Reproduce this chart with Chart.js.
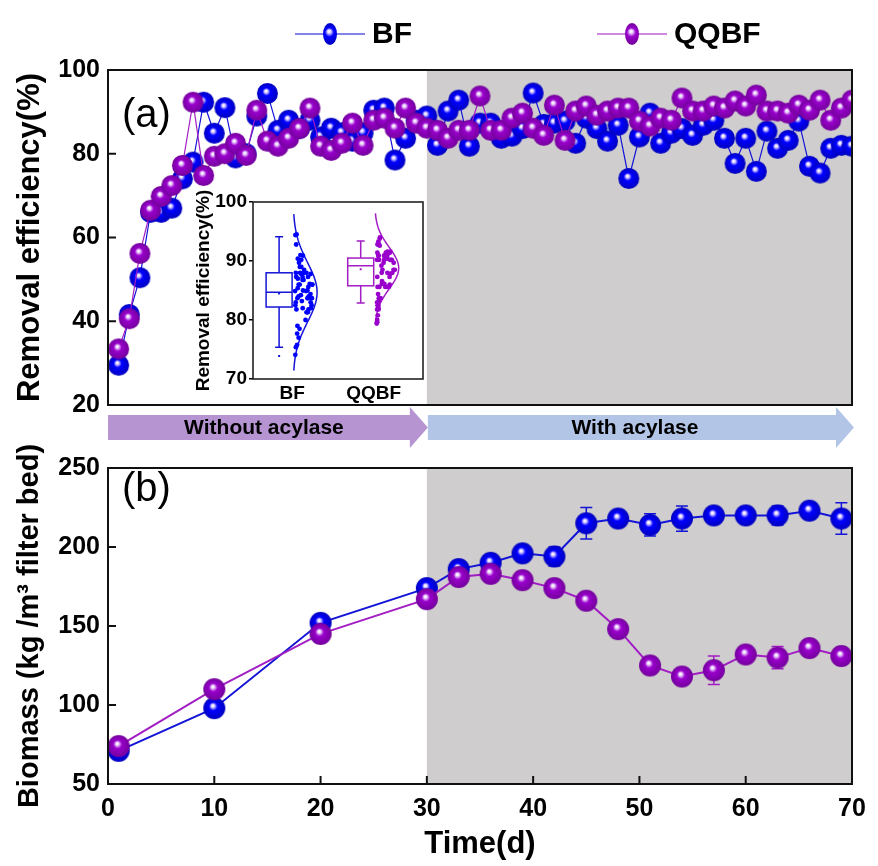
<!DOCTYPE html>
<html>
<head>
<meta charset="utf-8">
<script src="https://cdn.jsdelivr.net/npm/chart.js@4.4.1/dist/chart.umd.min.js"></script>
<style>
  body { margin: 0; background: #fff; }
  #wrap { position: relative; width: 878px; height: 866px; overflow: hidden; }
  canvas { position: absolute; }
</style>
</head>
<body>
<div id="wrap">
  <canvas id="top" width="878" height="450" style="left:0;top:0;width:878px;height:450px"></canvas>
  <canvas id="bottom" width="878" height="421" style="left:0;top:445px;width:878px;height:421px"></canvas>
  <canvas id="inset" width="265" height="240" style="left:180px;top:175px;width:265px;height:240px"></canvas>
</div>
<script>
const FONT = '"Liberation Sans", Arial, sans-serif';
const BLUE = '#0000ff', BLUE_DARK = '#0000c0', BLUE_LINE = '#1414d8';
const PURPLE = '#9900cc', PURPLE_DARK = '#74009c', PURPLE_LINE = '#a21ec4';
const SHADE = '#cfcdce';

// (a) removal efficiency, one reading per day
const daysA = [1, 2, 3, 4, 5, 6, 7, 8, 9, 10, 11, 12, 13, 14, 15, 16, 17, 18, 19, 20,
  21, 22, 23, 24, 25, 26, 27, 28, 29, 30, 31, 32, 33, 34, 35, 36, 37, 38, 39, 40,
  41, 42, 43, 44, 45, 46, 47, 48, 49, 50, 51, 52, 53, 54, 55, 56, 57, 58, 59, 60,
  61, 62, 63, 64, 65, 66, 67, 68, 69, 70];
const bfRemoval = [29.5, 41.6, 50.4, 66, 66, 67, 74, 78, 92.3, 84.9, 91, 79, 80, 89, 94.4, 85.6, 88, 86, 88, 84,
  86.1, 85, 83, 85, 90.4, 90.9, 78.5, 83.7, 88, 89, 82, 90.2, 92.8, 81.8, 87.3, 87.3, 83.7, 84.2, 86, 94.5,
  87, 87.3, 87.8, 82.5, 88.5, 86, 83, 86.8, 74.1, 84, 89.7, 82.5, 84.9, 86, 84.4, 86.8, 88, 83.7, 77.7, 83.7,
  75.8, 85.4, 81.3, 83.2, 87.8, 77, 75.4, 81.3, 82, 81.8];
const qqRemoval = [33.4, 40.6, 56.2, 66.5, 69.8, 72.4, 77.2, 92.3, 74.8, 79.4, 80, 82.5, 79.6, 90.4, 83, 81.8, 83.7, 86, 90.9, 81.8,
  80.8, 82.5, 87.3, 82, 88, 88.5, 86.1, 90.9, 87.3, 86.1, 85.6, 83.7, 85.6, 85.6, 93.8, 85.6, 85.6, 88.5, 89.7, 86.1,
  84.4, 91.6, 83.2, 90.2, 91.4, 89.2, 90.2, 90.9, 90.9, 87.8, 86.6, 88.5, 88, 93.3, 90.2, 90.2, 91.4, 90.9, 92.6, 91.4,
  94, 90.2, 90.2, 89.7, 91.6, 90.4, 92.8, 88, 90.9, 92.8];

// (b) biomass with error bars
const daysB = [1, 10, 20, 30, 33, 36, 39, 42, 45, 48, 51, 54, 57, 60, 63, 66, 69];
const bfBiomass = [71, 98, 152, 174, 186, 190, 196, 194, 215, 218, 214, 218, 220, 220, 220, 223, 218];
const bfBiomassErr = [2, 3, 4, 3, 4, 3, 4, 6, 10, 4, 7, 8, 4, 4, 6, 5, 10];
const qqBiomass = [74, 110, 145, 167, 181, 183, 179, 174, 166, 148, 125, 118, 122, 132, 130, 136, 131];
const qqBiomassErr = [2, 3, 3, 3, 4, 3, 5, 3, 4, 3, 5, 4, 9, 4, 7, 5, 3];

// inset box plot: [lower whisker, Q1, median, Q3, upper whisker]
const insetGroups = ['BF', 'QQBF'];
const bfBox = [75.4, 82.2, 84.7, 88.0, 94.1];
const qqBox = [82.9, 85.8, 89.2, 90.5, 93.4];
const boxMeans = [84.5, 88.6];
const bfOutliers = [73.9];
const fitMean = [84.7, 88.8];
const fitSd = [5.0, 3.5];

const acylaseStart = 30;
const insetPos = [0.23, 0.71];

function sphere(color, dark, r) {
  const c = document.createElement('canvas');
  c.width = c.height = 2 * r + 2;
  const g = c.getContext('2d');
  const m = r + 1;
  const grad = g.createRadialGradient(m - r * 0.15, m - r * 0.25, 0, m, m, r);
  grad.addColorStop(0, '#ffffff');
  grad.addColorStop(0.12, '#f4e8ff');
  grad.addColorStop(0.38, color);
  grad.addColorStop(1, dark);
  g.fillStyle = grad;
  g.beginPath();
  g.arc(m, m, r, 0, Math.PI * 2);
  g.fill();
  return c;
}

const tickFont = { family: FONT, size: 25, weight: 'bold' };

const shadePlugin = {
  id: 'shade',
  beforeDatasetsDraw(chart) {
    const { ctx, chartArea: a, scales: { x } } = chart;
    const x0 = x.getPixelForValue(acylaseStart);
    ctx.save();
    ctx.fillStyle = SHADE;
    ctx.fillRect(x0, a.top, a.right - x0, a.bottom - a.top);
    ctx.restore();
  }
};

function framePlugin(xTicks) {
  return {
    id: 'frame',
    afterDraw(chart) {
      const { ctx, chartArea: a, scales: { x, y } } = chart;
      ctx.save();
      ctx.strokeStyle = '#111';
      ctx.lineWidth = 2;
      ctx.strokeRect(a.left, a.top, a.right - a.left, a.bottom - a.top);
      ctx.beginPath();
      y.ticks.forEach(t => {
        const py = y.getPixelForValue(t.value);
        ctx.moveTo(a.left, py);
        ctx.lineTo(a.left + 8, py);
      });
      if (xTicks) {
        x.ticks.forEach(t => {
          const px = x.getPixelForValue(t.value);
          ctx.moveTo(px, a.bottom);
          ctx.lineTo(px, a.bottom - 8);
        });
      }
      ctx.stroke();
      ctx.restore();
    }
  };
}

function panelLabel(text, cy) {
  return {
    id: 'panelLabel',
    afterDraw(chart) {
      const { ctx, chartArea: a } = chart;
      ctx.save();
      ctx.fillStyle = '#000';
      ctx.font = '40px ' + FONT;
      ctx.textBaseline = 'middle';
      ctx.fillText(text, a.left + 14, cy);
      ctx.restore();
    }
  };
}

const legendPlugin = {
  id: 'topLegend',
  afterDraw(chart) {
    const { ctx } = chart;
    const items = [
      { label: 'BF', cx: 330, color: BLUE, dark: BLUE_DARK, line: BLUE_LINE },
      { label: 'QQBF', cx: 632, color: PURPLE, dark: PURPLE_DARK, line: PURPLE_LINE }
    ];
    const cy = 34;
    items.forEach(it => {
      ctx.save();
      ctx.strokeStyle = it.line;
      ctx.globalAlpha = 0.7;
      ctx.lineWidth = 1.5;
      ctx.beginPath();
      ctx.moveTo(it.cx - 35, cy);
      ctx.lineTo(it.cx + 35, cy);
      ctx.stroke();
      ctx.globalAlpha = 1;
      const grad = ctx.createRadialGradient(it.cx - 1, cy - 3, 0, it.cx, cy, 10);
      grad.addColorStop(0, '#ffffff');
      grad.addColorStop(0.15, '#eee0ff');
      grad.addColorStop(0.45, it.color);
      grad.addColorStop(1, it.dark);
      ctx.fillStyle = grad;
      ctx.beginPath();
      ctx.ellipse(it.cx, cy, 7, 11, 0, 0, Math.PI * 2);
      ctx.fill();
      ctx.fillStyle = '#000';
      ctx.font = 'bold 30px ' + FONT;
      ctx.textBaseline = 'middle';
      ctx.fillText(it.label, it.cx + 42, cy + 1);
      ctx.restore();
    });
  }
};

const arrowPlugin = {
  id: 'arrows',
  afterDraw(chart) {
    const { ctx, chartArea: a, scales: { x } } = chart;
    const tip = x.getPixelForValue(acylaseStart) + 1;
    const t = 415, b = 440, ht = 407, hb = 448, head = 18;
    const mid = (t + b) / 2;
    ctx.save();
    ctx.fillStyle = '#b693d1';
    ctx.beginPath();
    ctx.moveTo(a.left, t); ctx.lineTo(tip - head, t); ctx.lineTo(tip - head, ht);
    ctx.lineTo(tip, mid); ctx.lineTo(tip - head, hb); ctx.lineTo(tip - head, b);
    ctx.lineTo(a.left, b); ctx.closePath(); ctx.fill();
    const end = a.right + 2;
    ctx.fillStyle = '#b2c5e6';
    ctx.beginPath();
    ctx.moveTo(tip, t); ctx.lineTo(end - head, t); ctx.lineTo(end - head, ht);
    ctx.lineTo(end, mid); ctx.lineTo(end - head, hb); ctx.lineTo(end - head, b);
    ctx.lineTo(tip, b); ctx.closePath(); ctx.fill();
    ctx.fillStyle = '#000';
    ctx.font = 'bold 21px ' + FONT;
    ctx.textAlign = 'center';
    ctx.textBaseline = 'middle';
    ctx.fillText('Without acylase', (a.left + tip) / 2 - 4, mid + 1);
    ctx.fillText('With acylase', (tip + end) / 2 - 6, mid + 1);
    ctx.restore();
  }
};

const errorPlugin = {
  id: 'errorBars',
  beforeDatasetsDraw(chart) {
    const { ctx, scales: { x, y } } = chart;
    const sets = [
      { vals: bfBiomass, errs: bfBiomassErr, color: BLUE_LINE },
      { vals: qqBiomass, errs: qqBiomassErr, color: PURPLE_LINE }
    ];
    ctx.save();
    ctx.lineWidth = 1.5;
    sets.forEach(s => {
      ctx.strokeStyle = s.color;
      ctx.beginPath();
      daysB.forEach((d, i) => {
        const px = x.getPixelForValue(d);
        const y1 = y.getPixelForValue(s.vals[i] + s.errs[i]);
        const y2 = y.getPixelForValue(s.vals[i] - s.errs[i]);
        ctx.moveTo(px, y1); ctx.lineTo(px, y2);
        ctx.moveTo(px - 6, y1); ctx.lineTo(px + 6, y1);
        ctx.moveTo(px - 6, y2); ctx.lineTo(px + 6, y2);
      });
      ctx.stroke();
    });
    ctx.restore();
  }
};

const sphereA = [sphere(BLUE, BLUE_DARK, 10.5), sphere(PURPLE, PURPLE_DARK, 10.5)];
const sphereB = [sphere(BLUE, BLUE_DARK, 11), sphere(PURPLE, PURPLE_DARK, 11)];

// ---------- (a) removal efficiency ----------
new Chart(document.getElementById('top'), {
  type: 'line',
  data: {
    datasets: [
      {
        label: 'BF', order: 2,
        data: daysA.map((d, i) => ({ x: d, y: bfRemoval[i] })),
        borderColor: BLUE_LINE, borderWidth: 1.2, pointStyle: sphereA[0], pointRadius: 10, tension: 0
      },
      {
        label: 'QQBF', order: 1,
        data: daysA.map((d, i) => ({ x: d, y: qqRemoval[i] })),
        borderColor: PURPLE_LINE, borderWidth: 1.2, pointStyle: sphereA[1], pointRadius: 10, tension: 0
      }
    ]
  },
  options: {
    responsive: false, animation: false, events: [],
    layout: { padding: { top: 70, right: 26, bottom: 45, left: 0 } },
    plugins: { legend: { display: false }, tooltip: { enabled: false } },
    scales: {
      x: {
        type: 'linear', min: 0, max: 70,
        afterFit: s => { s.height = 0; },
        ticks: { display: false, stepSize: 10 },
        grid: { display: false, drawTicks: false }, border: { display: false }
      },
      y: {
        min: 20, max: 100,
        afterFit: s => { s.width = 108; },
        ticks: { stepSize: 20, color: '#000', font: tickFont, padding: 8 },
        grid: { display: false, drawTicks: false }, border: { display: false },
        title: { display: true, text: 'Removal efficiency(%)', color: '#000',
          font: { family: FONT, size: 31, weight: 'bold' }, padding: { top: 12, bottom: 0 } }
      }
    }
  },
  plugins: [shadePlugin, framePlugin(false), panelLabel('(a)', 116), legendPlugin, arrowPlugin]
});

// ---------- (b) biomass ----------
new Chart(document.getElementById('bottom'), {
  type: 'line',
  data: {
    datasets: [
      {
        label: 'BF', order: 2,
        data: daysB.map((d, i) => ({ x: d, y: bfBiomass[i] })),
        borderColor: BLUE_LINE, borderWidth: 2, pointStyle: sphereB[0], pointRadius: 11, tension: 0
      },
      {
        label: 'QQBF', order: 1,
        data: daysB.map((d, i) => ({ x: d, y: qqBiomass[i] })),
        borderColor: PURPLE_LINE, borderWidth: 2, pointStyle: sphereB[1], pointRadius: 11, tension: 0
      }
    ]
  },
  options: {
    responsive: false, animation: false, events: [],
    layout: { padding: { top: 3, right: 26, bottom: 0, left: 0 } },
    plugins: { legend: { display: false }, tooltip: { enabled: false } },
    scales: {
      x: {
        type: 'linear', min: 0, max: 70,
        afterFit: s => { s.height = 82; },
        ticks: { stepSize: 10, color: '#000', font: tickFont, padding: 10, maxRotation: 0 },
        grid: { display: false, drawTicks: false }, border: { display: false },
        title: { display: true, text: 'Time(d)', color: '#000',
          font: { family: FONT, size: 31, weight: 'bold' }, padding: { top: 0, bottom: 3 } }
      },
      y: {
        min: 50, max: 250,
        afterFit: s => { s.width = 108; },
        ticks: { stepSize: 50, color: '#000', font: tickFont, padding: 8 },
        grid: { display: false, drawTicks: false }, border: { display: false },
        title: { display: true, text: 'Biomass (kg /m³ filter bed)', color: '#000',
          font: { family: FONT, size: 29, weight: 'bold' }, padding: { top: 13, bottom: 0 } }
      }
    }
  },
  plugins: [shadePlugin, errorPlugin, framePlugin(true), panelLabel('(b)', 45)]
});

// ---------- inset box plot ----------
function insetPoints(values, g) {
  return values.slice(9).map((v, i) => {
    const z = (v - fitMean[g]) / fitSd[g];
    const room = 19 * Math.exp(-z * z / 2);
    const frac = (i * 0.618034) % 1;
    return { x: insetPos[g] + (3 + frac * room) / 170, y: v };
  });
}

const insetPlugin = {
  id: 'insetBox',
  beforeDraw(chart) {
    const { ctx, chartArea: a } = chart;
    ctx.save();
    ctx.fillStyle = '#fff';
    ctx.fillRect(a.left, a.top, a.right - a.left, a.bottom - a.top);
    ctx.restore();
  },
  beforeDatasetsDraw(chart) {
    const { ctx, scales: { x, y } } = chart;
    const boxes = [bfBox, qqBox];
    const colors = [BLUE_LINE, PURPLE_LINE];
    ctx.save();
    ctx.lineWidth = 1.5;
    boxes.forEach((bx, g) => {
      const cx = x.getPixelForValue(insetPos[g]);
      const bc = cx - 13;
      ctx.strokeStyle = colors[g];
      ctx.fillStyle = colors[g];
      const [lo, q1, med, q3, hi] = bx.map(v => y.getPixelForValue(v));
      ctx.strokeRect(cx - 26, q3, 26, q1 - q3);
      ctx.beginPath();
      ctx.moveTo(cx - 26, med); ctx.lineTo(cx, med);
      ctx.moveTo(bc, q3); ctx.lineTo(bc, hi);
      ctx.moveTo(bc - 4, hi); ctx.lineTo(bc + 4, hi);
      ctx.moveTo(bc, q1); ctx.lineTo(bc, lo);
      ctx.moveTo(bc - 4, lo); ctx.lineTo(bc + 4, lo);
      ctx.stroke();
      ctx.fillRect(bc - 1, y.getPixelForValue(boxMeans[g]) - 1, 2, 2);
      // half violin from fitted normal curve
      ctx.beginPath();
      const m = fitMean[g], sd = fitSd[g];
      for (let k = 0; k <= 60; k++) {
        const z = -2.65 + k * 5.3 / 60;
        const px = cx + 1 + 24 * Math.exp(-z * z / 2);
        const py = y.getPixelForValue(m + z * sd);
        if (k === 0) ctx.moveTo(px, py); else ctx.lineTo(px, py);
      }
      ctx.stroke();
    });
    bfOutliers.forEach(v => {
      const cx = x.getPixelForValue(insetPos[0]) - 13;
      ctx.fillStyle = BLUE_LINE;
      ctx.fillRect(cx - 1, y.getPixelForValue(v) - 1, 2, 2);
    });
    ctx.restore();
  },
  afterDraw(chart) {
    const { ctx, chartArea: a } = chart;
    ctx.save();
    ctx.strokeStyle = '#222';
    ctx.lineWidth = 1.6;
    ctx.strokeRect(a.left, a.top, a.right - a.left, a.bottom - a.top);
    ctx.restore();
  }
};

const insetFont = { family: FONT, size: 19, weight: 'bold' };
new Chart(document.getElementById('inset'), {
  type: 'scatter',
  data: {
    datasets: [
      { data: insetPoints(bfRemoval, 0), pointRadius: 2.4, backgroundColor: BLUE, borderWidth: 0 },
      { data: insetPoints(qqRemoval, 1), pointRadius: 2.4, backgroundColor: PURPLE, borderWidth: 0 }
    ]
  },
  options: {
    responsive: false, animation: false, events: [],
    layout: { padding: { top: 27, right: 22, bottom: 0, left: 0 } },
    plugins: { legend: { display: false }, tooltip: { enabled: false } },
    scales: {
      x: {
        type: 'linear', min: 0, max: 1,
        afterFit: s => { s.height = 36; },
        afterBuildTicks: s => { s.ticks = insetPos.map(v => ({ value: v })); },
        ticks: { callback: (v, i) => insetGroups[i], color: '#000', font: insetFont, padding: 3, autoSkip: false, maxRotation: 0 },
        grid: { display: false, drawTicks: false }, border: { display: false }
      },
      y: {
        min: 70, max: 100,
        afterFit: s => { s.width = 73; },
        ticks: { stepSize: 10, color: '#000', font: insetFont, padding: 2 },
        grid: { display: true, drawOnChartArea: false, drawTicks: true, tickLength: 4, color: '#000', lineWidth: 1.5 },
        border: { display: false },
        title: { display: true, text: 'Removal efficiency(%)', color: '#000', font: insetFont, padding: { top: 12, bottom: 0 } }
      }
    }
  },
  plugins: [insetPlugin]
});
</script>
</body>
</html>
